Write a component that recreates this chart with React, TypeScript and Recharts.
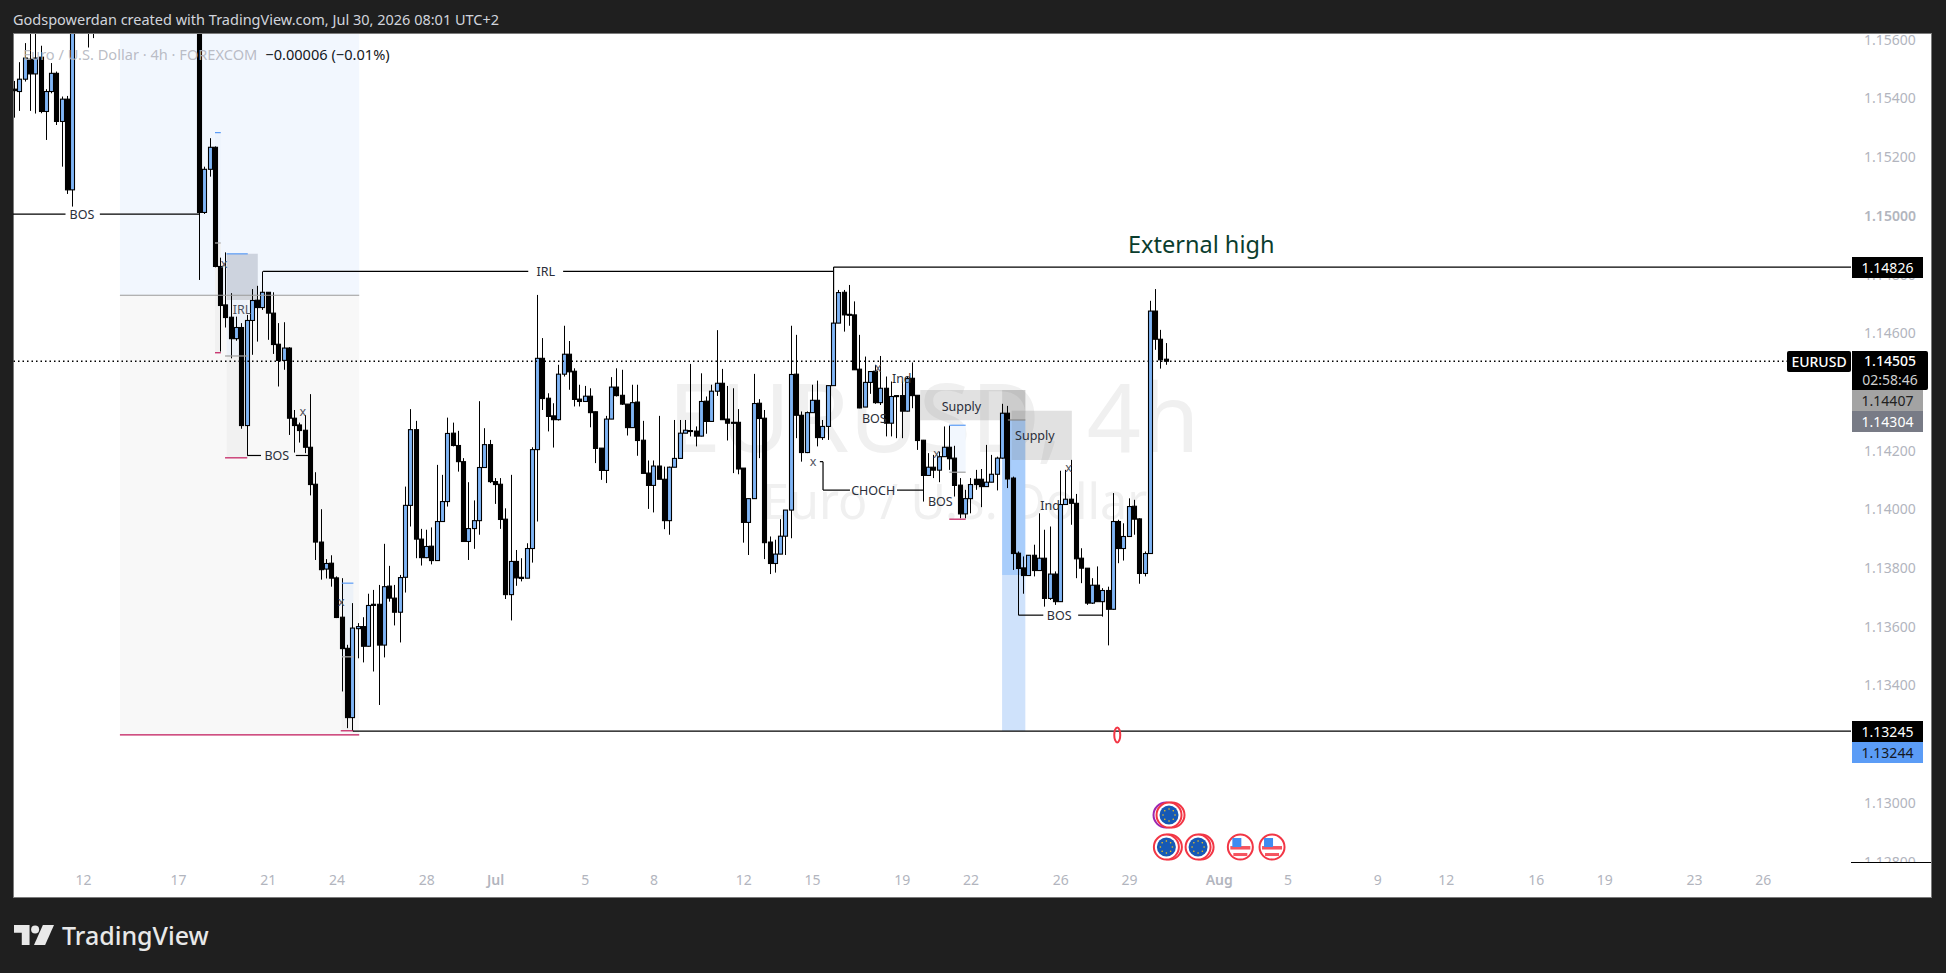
import { Bar, ComposedChart, ReferenceArea, ReferenceDot, ReferenceLine, XAxis, YAxis } from "recharts";

const __ = null;

// values, one entry per bar slot (bars above the visible range are left out)
const opens = [
  1.15432, 1.15424, 1.15466, 1.15534, 1.15484, 1.15541, 1.15356, 1.15424, 1.15486, 1.15322, 1.15398, 1.15089,
  __, __, 1.157, 1.1572,
  __, __, __, __, __, __, __, __, __, __, __, __, __, __, __, __, __, __, __,
  1.1585, 1.15012, 1.15159, 1.15234,
  1.14828, 1.14697, 1.14655, 1.14582, 1.1462, 1.14286, 1.14644, 1.14713, 1.14688, 1.1474, 1.14669,
  1.14563, 1.14508, 1.1455, 1.14311, 1.14288, 1.1427, 1.14212, 1.14086, 1.13889, 1.13797, 1.13817,
  1.13767, 1.13633, 1.13527, 1.13291, 1.13594, 1.13601, 1.13534, 1.13677, 1.13677, 1.13538, 1.13739,
  1.13698, 1.1365, 1.13769, 1.14014, 1.14272, 1.13899, 1.13836, 1.13875, 1.13826, 1.13959, 1.14027,
  1.1426, 1.14218, 1.14163, 1.13891, 1.13935, 1.13962, 1.14143, 1.14221, 1.14095, 1.14086, 1.13967,
  1.1371, 1.13823, 1.13769, 1.13766, 1.13867, 1.14204,
  1.14515, 1.14379, 1.14319, 1.14306, 1.14461, 1.14529, 1.14471, 1.14376, 1.14368, 1.14386,
  1.14333, 1.14209, 1.14133, 1.14308, 1.14417, 1.14389, 1.14359, 1.14279, 1.14366, 1.14236,
  1.14124, 1.14082, 1.14148, 1.14103, 1.13962, 1.14144, 1.14174, 1.1426, 1.14269, 1.14267,
  1.1425, 1.14369, 1.143, 1.14403, 1.1443, 1.14308, 1.14297, 1.14297, 1.14141, 1.13956,
  1.14037, 1.14362, 1.14311, 1.13889, 1.13816, 1.13848, 1.13909, 1.13998, 1.14461, 1.14321,
  1.14194, 1.1433, 1.14372, 1.14245, 1.14283, 1.14422, 1.14635, 1.1474, 1.14665, 1.14663,
  1.14478, 1.14349, 1.14433, 1.14471, 1.14364, 1.14413, 1.14294, 1.14388, 1.14388, 1.14335,
  1.14447, 1.14389, 1.14236, 1.14116, 1.14144, 1.14134, 1.1418, 1.14212, 1.14175, 1.14083,
  1.13985, 1.14037, 1.14103, 1.14103, 1.14078, 1.14093, 1.1412, 1.14175, 1.14328, 1.14107,
  1.13851, 1.13801, 1.13775, 1.13844, 1.13792, 1.13834, 1.13697, 1.1378, 1.13686, 1.14017,
  1.14035, 1.14021, 1.13834, 1.138, 1.13681, 1.13742, 1.13686, 1.13724, 1.1366, 1.13959,
  1.13867, 1.13908, 1.14011, 1.13968, 1.13782, 1.1385, 1.14676, 1.1458, 1.14512,
];
const highs = [
  1.1546, 1.15524, 1.15589, 1.15634, 1.15645, 1.1558, 1.15432, 1.15521, 1.15492, 1.15407, 1.15409, 1.159,
  __, __, 1.1575, 1.1578,
  __, __, __, __, __, __, __, __, __, __, __, __, __, __, __, __, __, __, __,
  1.159, 1.15168, 1.15265, 1.15237,
  1.14858, 1.14876, 1.14737, 1.14657, 1.14635, 1.14663, 1.14751, 1.14762, 1.14811, 1.1474, 1.1474,
  1.14635, 1.14638, 1.14553, 1.14339, 1.14296, 1.14322, 1.14393, 1.14127, 1.14001, 1.13831, 1.13844,
  1.13772, 1.13766, 1.13539, 1.13681, 1.13613, 1.13633, 1.13713, 1.13726, 1.13743, 1.13883, 1.13808,
  1.13743, 1.13777, 1.14078, 1.14342, 1.14302, 1.13934, 1.13931, 1.13939, 1.14152, 1.14118, 1.14313,
  1.14296, 1.14268, 1.14175, 1.14093, 1.14031, 1.14369, 1.14277, 1.14237, 1.14107, 1.14107, 1.14004,
  1.14118, 1.13862, 1.13834, 1.13885, 1.14212, 1.14731,
  1.14584, 1.14396, 1.14362, 1.14493, 1.14626, 1.14574, 1.14481, 1.14425, 1.14421, 1.14413,
  1.14334, 1.14209, 1.14319, 1.14451, 1.14481, 1.14476, 1.14359, 1.14425, 1.14425, 1.14302,
  1.14167, 1.14167, 1.14319, 1.14146, 1.14146, 1.14305, 1.14305, 1.14305, 1.14496, 1.14283,
  1.14464, 1.14385, 1.14425, 1.14611, 1.14479, 1.14421, 1.14413, 1.14342, 1.14141, 1.14037,
  1.14462, 1.14376, 1.14339, 1.13908, 1.13897, 1.13967, 1.13998, 1.14626, 1.14595, 1.14334,
  1.14334, 1.14425, 1.14439, 1.14305, 1.14422, 1.14635, 1.14748, 1.14748, 1.14765, 1.14709,
  1.14595, 1.14521, 1.1447, 1.14493, 1.14523, 1.14453, 1.14436, 1.14388, 1.14436, 1.14453,
  1.14501, 1.14389, 1.14237, 1.14192, 1.14186, 1.14197, 1.14283, 1.14286, 1.14217, 1.14107,
  1.14067, 1.14107, 1.14135, 1.14138, 1.1422, 1.14186, 1.1418, 1.1436, 1.14353, 1.14112,
  1.13857, 1.1384, 1.13845, 1.1388, 1.13987, 1.13931, 1.13942, 1.13789, 1.14132, 1.14135,
  1.14169, 1.14053, 1.13868, 1.138, 1.13766, 1.13806, 1.13732, 1.13737, 1.14056, 1.13965,
  1.13953, 1.14038, 1.14033, 1.1397, 1.13857, 1.14711, 1.14751, 1.14612, 1.14567,
];
const lows = [
  1.15335, 1.15358, 1.15458, 1.15358, 1.15349, 1.1535, 1.15259, 1.15418, 1.1531, 1.15168, 1.15075, 1.15032,
  __, __, 1.15574, 1.15606,
  __, __, __, __, __, __, __, __, __, __, __, __, __, __, __, __, __, __, __,
  1.14782, 1.15007, 1.15134, 1.14825,
  1.14538, 1.1462, 1.14515, 1.14575, 1.14275, 1.14184, 1.14527, 1.14572, 1.1468, 1.14578, 1.1453,
  1.14419, 1.14476, 1.14254, 1.14194, 1.14228, 1.14192, 1.14048, 1.13828, 1.13761, 1.13765, 1.13737,
  1.1363, 1.1338, 1.13255, 1.13246, 1.13493, 1.13479, 1.13533, 1.13448, 1.13334, 1.13496, 1.13686,
  1.13605, 1.13547, 1.13717, 1.13942, 1.13834, 1.13809, 1.13834, 1.13813, 1.13826, 1.13959, 1.1401,
  1.14215, 1.14129, 1.13891, 1.13828, 1.13866, 1.13914, 1.14143, 1.1409, 1.14019, 1.13934, 1.13695,
  1.13622, 1.1374, 1.13755, 1.13766, 1.13819, 1.13959,
  1.14339, 1.14266, 1.14211, 1.14303, 1.14453, 1.14408, 1.14351, 1.14351, 1.14368, 1.1428,
  1.14158, 1.14101, 1.1409, 1.14308, 1.14385, 1.14356, 1.14252, 1.14279, 1.14183, 1.14123,
  1.14002, 1.1399, 1.14103, 1.13933, 1.13914, 1.14144, 1.14174, 1.1426, 1.14249, 1.14215,
  1.14249, 1.14258, 1.143, 1.14387, 1.14305, 1.14235, 1.14124, 1.1412, 1.13887, 1.13845,
  1.14037, 1.14175, 1.13831, 1.1378, 1.13785, 1.13848, 1.13845, 1.13902, 1.14243, 1.14163,
  1.14192, 1.1433, 1.14215, 1.14237, 1.14237, 1.14422, 1.14635, 1.14606, 1.14626, 1.14476,
  1.14345, 1.14349, 1.14394, 1.1436, 1.14356, 1.14249, 1.14249, 1.14243, 1.14243, 1.14334,
  1.14345, 1.14203, 1.14027, 1.14116, 1.14107, 1.14093, 1.1418, 1.14135, 1.14044, 1.1397,
  1.1397, 1.13987, 1.14067, 1.14008, 1.14078, 1.14093, 1.14065, 1.14173, 1.14073, 1.13794,
  1.1364, 1.13713, 1.13775, 1.13772, 1.13792, 1.13669, 1.13692, 1.13675, 1.13686, 1.14017,
  1.13948, 1.13766, 1.13749, 1.13675, 1.13678, 1.13685, 1.13635, 1.13537, 1.13658, 1.13817,
  1.13826, 1.13908, 1.13914, 1.13747, 1.13772, 1.1385, 1.14544, 1.1448, 1.14493,
];
const closes = [
  1.15427, 1.15466, 1.15538, 1.15484, 1.15538, 1.15356, 1.15424, 1.15486, 1.15322, 1.15398, 1.15089, 1.1585,
  __, __, 1.1572, 1.1575,
  __, __, __, __, __, __, __, __, __, __, __, __, __, __, __, __, __, __, __,
  1.15012, 1.15159, 1.15234, 1.14828,
  1.14695, 1.14654, 1.14582, 1.1462, 1.14286, 1.14644, 1.14712, 1.14688, 1.1474, 1.14669, 1.14562,
  1.14508, 1.1455, 1.14311, 1.14286, 1.14269, 1.14212, 1.14085, 1.13889, 1.13795, 1.13816, 1.13766,
  1.13632, 1.13526, 1.13291, 1.13596, 1.13601, 1.13534, 1.13673, 1.13673, 1.13538, 1.13737, 1.13698,
  1.1365, 1.13768, 1.14014, 1.14272, 1.13899, 1.13836, 1.13874, 1.13826, 1.13959, 1.14027, 1.14259,
  1.14218, 1.14163, 1.13891, 1.13935, 1.13962, 1.14143, 1.14221, 1.14095, 1.14085, 1.13966, 1.1371,
  1.13823, 1.13767, 1.13765, 1.13867, 1.14204, 1.14515,
  1.14378, 1.14317, 1.14306, 1.14461, 1.14529, 1.14469, 1.14375, 1.14368, 1.14386, 1.1433,
  1.14208, 1.14133, 1.14308, 1.14417, 1.14388, 1.14359, 1.14279, 1.14364, 1.14235, 1.14123,
  1.14082, 1.14148, 1.14103, 1.13962, 1.14144, 1.14174, 1.1426, 1.1427, 1.14267, 1.1425,
  1.14368, 1.143, 1.14403, 1.1443, 1.14306, 1.14294, 1.14295, 1.14138, 1.13956, 1.14037,
  1.14361, 1.1431, 1.13887, 1.13816, 1.13848, 1.13909, 1.13998, 1.1446, 1.14321, 1.14194,
  1.1433, 1.14372, 1.14245, 1.14283, 1.14422, 1.14635, 1.14739, 1.14663, 1.14662, 1.14476,
  1.14346, 1.14433, 1.1447, 1.14364, 1.14413, 1.14294, 1.14385, 1.14386, 1.14335, 1.14446,
  1.14388, 1.14235, 1.14116, 1.14144, 1.14134, 1.1418, 1.14212, 1.14173, 1.14082, 1.13985,
  1.14037, 1.14085, 1.14085, 1.14078, 1.14093, 1.1412, 1.14175, 1.14328, 1.14104, 1.1385,
  1.13799, 1.13775, 1.13844, 1.13792, 1.13834, 1.13697, 1.1378, 1.13686, 1.14017, 1.14035,
  1.14021, 1.13832, 1.138, 1.13681, 1.13742, 1.13686, 1.13724, 1.1366, 1.13959, 1.13867,
  1.13908, 1.1401, 1.13967, 1.13782, 1.1385, 1.14676, 1.1458, 1.1451, 1.14505,
];

const priceTicks = [1.156, 1.154, 1.152, 1.15, 1.148, 1.146, 1.144, 1.142, 1.14, 1.138, 1.136, 1.134, 1.132, 1.13, 1.128];
const dateSlots = [13, 31, 48, 61, 78, 91, 108, 121, 138, 151, 168, 181, 198, 211, 228, 241, 258, 271, 288, 301, 318, 331];
const dateLabels = ["12", "17", "21", "24", "28", "Jul", "5", "8", "12", "15", "19", "22", "26", "29", "Aug", "5", "9", "12", "16", "19", "23", "26"];

const UI_FONT = "'Noto Sans', sans-serif";
const BLUE = "#7fb5f6";
const RAY = "#5b9cf6";
const CRIMSON = "#c2185b";
const SLOT_MIN = -0.34;
const SLOT_MAX = 347.6;
const PRICE_MIN = 1.12799;
const PRICE_MAX = 1.1562;

const bars = opens
  .map((open, i) => ({ i, open, high: highs[i], low: lows[i], close: closes[i], range: [lows[i], highs[i]] }))
  .filter((b) => b.open !== null);

// [slot from, slot to, price from, price to, fill] drawn under the candles
const zones: [number, number, number, number, string][] = [
  [19.9, 65.2, 1.1562, 1.1473, "#f2f7fe"],
  [19.9, 65.2, 1.1473, 1.13232, "#f8f8f8"],
  [37.9, 39, 1.15284, 1.14908, "#eef4fd"],
  [37.9, 39, 1.14908, 1.14534, "#f1f1f1"],
  [40.1, 44.1, 1.14714, 1.14523, "#edf2f9"],
  [40.1, 44.1, 1.14523, 1.14176, "#f1f1f1"],
  [40.1, 46, 1.14871, 1.14714, "rgba(120,130,150,0.3)"],
  [61.9, 64.1, 1.13749, 1.13498, "#edf2f8"],
  [61.9, 64.1, 1.13498, 1.13246, "#f2f2f2"],
  [176.9, 180, 1.14287, 1.14127, "#f2f7fe"],
  [186.9, 191.3, 1.14305, 1.13777, "#a8cdfb"],
  [186.9, 191.3, 1.13777, 1.13245, "#cfe2fb"],
  [186.9, 191.3, 1.14407, 1.14305, "rgba(0,0,0,0.1)"],
  [171.4, 191.3, 1.14407, 1.14304, "rgba(120,120,120,0.22)"],
  [188.7, 200.1, 1.14336, 1.14169, "rgba(120,120,120,0.22)"],
];

// [slot from, price from, slot to, price to, colour]
const segments: [number, number, number, number, string][] = [
  [19.9, 1.1473, 65.2, 1.1473, "#9a9a9a"],
  [19.9, 1.13232, 65.2, 1.13232, CRIMSON],
  [37.9, 1.15284, 39, 1.15284, RAY],
  [37.9, 1.14908, 39, 1.14908, "#b0b0b0"],
  [37.9, 1.14534, 39, 1.14534, CRIMSON],
  [40.1, 1.14871, 44.1, 1.14871, RAY],
  [39.8, 1.14523, 44.1, 1.14523, "#a0a0a0"],
  [39.8, 1.14176, 44, 1.14176, CRIMSON],
  [61.9, 1.13749, 64.1, 1.13749, RAY],
  [61.9, 1.13498, 64.1, 1.13498, "#b0b0b0"],
  [61.7, 1.13246, 64.1, 1.13246, CRIMSON],
  [176.9, 1.14287, 180, 1.14287, RAY],
  [176.9, 1.14127, 180, 1.14127, "#a0a0a0"],
  [176.9, 1.13967, 180, 1.13967, CRIMSON],
  [188, 1.14305, 191.3, 1.14305, "#8a8a8a"],
  [64, 1.13245, SLOT_MAX, 1.13245, "#000000"],
  [155, 1.14826, SLOT_MAX, 1.14826, "#000000"],
  [155, 1.14635, 155, 1.14826, "#000000"],
  [SLOT_MIN, 1.15006, 9.6, 1.15006, "#000000"],
  [16.1, 1.15006, 35, 1.15006, "#000000"],
  [47, 1.14811, 97.2, 1.14811, "#000000"],
  [103.8, 1.14811, 155, 1.14811, "#000000"],
  [44, 1.14184, 46.6, 1.14184, "#000000"],
  [53.2, 1.14184, 55.5, 1.14184, "#000000"],
  [153, 1.14163, 153, 1.14066, "#000000"],
  [152.4, 1.14163, 153, 1.14163, "#000000"],
  [153, 1.14066, 158.1, 1.14066, "#000000"],
  [167, 1.14066, 172, 1.14066, "#000000"],
  [190, 1.1364, 194.7, 1.1364, "#000000"],
  [201.3, 1.1364, 206, 1.1364, "#000000"],
];

// [text, slot, price, colour]
const notes: [string, number, number, string][] = [
  ["BOS", 12.7, 1.15006, "#2a2e39"],
  ["IRL", 100.5, 1.14811, "#2a2e39"],
  ["IRL", 43, 1.1468, "#50535e"],
  ["BOS", 49.6, 1.14184, "#2a2e39"],
  ["CHOCH", 162.5, 1.14066, "#2a2e39"],
  ["BOS", 197.7, 1.1364, "#2a2e39"],
  ["BOS", 162.7, 1.14311, "#2a2e39"],
  ["BOS", 175.2, 1.14027, "#2a2e39"],
  ["Ind", 167.9, 1.14445, "#2a2e39"],
  ["Ind", 196, 1.14012, "#2a2e39"],
  ["Supply", 179.2, 1.14351, "#2a2e39"],
  ["Supply", 193.1, 1.14252, "#2a2e39"],
  ["x", 54.5, 1.14334, "#50535e"],
  ["x", 39.6, 1.14837, "#50535e"],
  ["x", 61.8, 1.13686, "#50535e"],
  ["x", 151.1, 1.14162, "#50535e"],
  ["x", 163.4, 1.14482, "#50535e"],
  ["x", 174.5, 1.14189, "#50535e"],
  ["x", 199.5, 1.14142, "#50535e"],
];

// [kind, slot, price]
const events: [string, number, number][] = [
  ["eu2", 218.5, 1.12959],
  ["eu", 218, 1.1285],
  ["eu", 224, 1.1285],
  ["us", 232, 1.1285],
  ["us", 238, 1.1285],
];

const tags = [
  { text: "1.14826", top: 257, height: 21, width: 71, bg: "#000", color: "#fff" },
  { text: "1.14407", top: 390, height: 21, width: 71, bg: "#a3a3a3", color: "#222" },
  { text: "1.14304", top: 411, height: 21, width: 71, bg: "#787b86", color: "#fff" },
  { text: "1.13245", top: 721, height: 21, width: 71, bg: "#000", color: "#fff" },
  { text: "1.13244", top: 742, height: 21, width: 71, bg: "#5b9cf6", color: "#131722" },
];

function Candle(props: any) {
  const { x, y, width, height, payload } = props;
  const top = Math.min(y, y + height);
  const unit = Math.abs(height) / (payload.high - payload.low);
  const at = (v: number) => top + (payload.high - v) * unit;
  const cx = Math.floor(x + width / 2) + 0.5;
  const up = payload.close > payload.open;
  const bodyTop = at(Math.max(payload.open, payload.close));
  const bodyBottom = at(Math.min(payload.open, payload.close));
  return (
    <g>
      <line x1={cx} x2={cx} y1={top} y2={top + Math.abs(height)} stroke="#000" strokeWidth={1} />
      <rect
        x={cx - 2}
        y={bodyTop}
        width={4}
        height={Math.max(bodyBottom - bodyTop, 1)}
        fill={up ? BLUE : "#000"}
        stroke="#000"
        strokeWidth={1.1}
      />
    </g>
  );
}

function EventIcon({ cx, cy, kind }: any) {
  const ring = <circle cx={cx} cy={cy} r={12.5} fill="#fff" stroke="#f23645" strokeWidth={2} />;
  if (kind === "eu" || kind === "eu2") {
    return (
      <g>
        {kind === "eu2" && <circle cx={cx - 3} cy={cy} r={12.5} fill="#fff" stroke="#9c27b0" strokeWidth={2} />}
        <circle cx={cx + 3} cy={cy} r={12.5} fill="#fff" stroke="#f23645" strokeWidth={2} />
        {ring}
        <circle cx={cx} cy={cy} r={9.5} fill="#1659b5" />
        {[0, 1, 2, 3, 4, 5, 6, 7].map((k) => (
          <circle
            key={k}
            cx={cx + 6 * Math.cos((k * Math.PI) / 4)}
            cy={cy + 6 * Math.sin((k * Math.PI) / 4)}
            r={0.8}
            fill="#f5c518"
          />
        ))}
      </g>
    );
  }
  return (
    <g>
      {ring}
      <rect x={cx - 10} y={cy - 1} width={20} height={3.5} fill="#f5545f" />
      <rect x={cx - 7} y={cy + 6} width={14} height={3} fill="#f5545f" />
      <rect x={cx - 8} y={cy - 9} width={9} height={9} fill="#3f8cf0" />
    </g>
  );
}

function PriceTick({ x, y, payload }: any) {
  return (
    <text
      x={x + 5}
      y={y}
      dy="0.35em"
      fill="#b2b5be"
      fontFamily={UI_FONT}
      fontSize={14}
      fontWeight={payload.value === 1.15 ? 600 : 400}
    >
      {payload.value.toFixed(5)}
    </text>
  );
}

function DateTick({ x, y, index }: any) {
  const label = dateLabels[index];
  const month = label === "Jul" || label === "Aug";
  return (
    <text
      x={x}
      y={y + 10}
      dy="0.35em"
      textAnchor="middle"
      fill="#b2b5be"
      fontFamily={UI_FONT}
      fontSize={14}
      fontWeight={month ? 600 : 400}
    >
      {label}
    </text>
  );
}

function TradingViewMark() {
  return (
    <svg width={40} height={20} viewBox="0 0 36 18" style={{ position: "absolute", left: 14, top: 925 }}>
      <path d="M0 0h14v18H7V7H0z" fill="#e8e8e8" />
      <circle cx="19" cy="4" r="3.6" fill="#e8e8e8" />
      <path d="M26 0h10l-8 18H18z" fill="#e8e8e8" />
    </svg>
  );
}

export default function App() {
  return (
    <div
      style={{
        position: "fixed",
        left: 0,
        top: 0,
        width: 1946,
        height: 973,
        background: "#1f1f1f",
        overflow: "hidden",
        fontFamily: UI_FONT,
      }}
    >
      <div
        style={{
          position: "absolute",
          left: 13,
          top: 33,
          width: 1919,
          height: 865,
          boxSizing: "border-box",
          background: "#fff",
          border: "1px solid #7b7b7b",
        }}
      />
      <div style={{ position: "absolute", left: 668, top: 359, fontSize: 95, color: "#f0f0f0", whiteSpace: "nowrap", lineHeight: "112px" }}>
        EURUSD, 4h
      </div>
      <div style={{ position: "absolute", left: 762, top: 470, fontSize: 48.5, color: "#f0f0f0", whiteSpace: "nowrap", lineHeight: "60px" }}>
        Euro / U.S. Dollar
      </div>

      <div style={{ position: "absolute", left: 0, top: 0 }}>
        <ComposedChart
          width={1946}
          height={973}
          data={bars}
          margin={{ top: 34, left: 13, right: 14, bottom: 0 }}
          barGap={0}
        >
          <XAxis
            dataKey="i"
            type="number"
            domain={[SLOT_MIN, SLOT_MAX]}
            allowDataOverflow
            ticks={dateSlots}
            interval={0}
            height={111}
            axisLine={false}
            tickLine={false}
            tick={<DateTick />}
          />
          <YAxis
            orientation="right"
            type="number"
            domain={[PRICE_MIN, PRICE_MAX]}
            allowDataOverflow
            ticks={priceTicks}
            interval={0}
            width={81}
            axisLine={false}
            tickLine={false}
            tick={<PriceTick />}
          />
          {zones.map(([x1, x2, y1, y2, fill], k) => (
            <ReferenceArea key={`z${k}`} x1={x1} x2={x2} y1={y1} y2={y2} fill={fill} fillOpacity={1} stroke="none" />
          ))}
          <ReferenceLine y={1.14505} stroke="#000" strokeWidth={1.5} strokeDasharray="1.5 3" />
          <Bar dataKey="range" barSize={5} isAnimationActive={false} shape={<Candle />} />
          {segments.map(([x1, y1, x2, y2, color], k) => (
            <ReferenceLine
              key={`s${k}`}
              segment={[
                { x: x1, y: y1 },
                { x: x2, y: y2 },
              ]}
              stroke={color}
              strokeWidth={1.2}
            />
          ))}
          {notes.map(([text, x, y, color], k) => (
            <ReferenceDot
              key={`n${k}`}
              x={x}
              y={y}
              r={0}
              stroke="none"
              fill="none"
              label={{ value: text, position: "center", fill: color, fontSize: 12.5, fontFamily: UI_FONT }}
            />
          ))}
          <ReferenceDot
            x={224.6}
            y={1.14903}
            r={0}
            stroke="none"
            fill="none"
            label={{ value: "External high", position: "center", fill: "#0b3d2e", fontSize: 23.5, fontFamily: UI_FONT }}
          />
          <ReferenceDot
            x={208.7}
            y={1.13232}
            shape={({ cx, cy }: any) => <ellipse cx={cx} cy={cy} rx={3} ry={7.5} fill="none" stroke="#f23645" strokeWidth={2} />}
          />
          {events.map(([kind, x, y], k) => (
            <ReferenceDot key={`e${k}`} x={x} y={y} shape={(p: any) => <EventIcon cx={p.cx} cy={p.cy} kind={kind} />} />
          ))}
        </ComposedChart>
      </div>

      {/* header and footer sit over the chart so the top price label gets cut like in the screenshot */}
      <div style={{ position: "absolute", left: 0, top: 0, width: 1946, height: 33, background: "#1f1f1f" }} />
      <div style={{ position: "absolute", left: 13, top: 9, fontSize: 14.5, color: "#d1d4dc", whiteSpace: "nowrap", lineHeight: "20px" }}>
        Godspowerdan created with TradingView.com, Jul 30, 2026 08:01 UTC+2
      </div>
      <div style={{ position: "absolute", left: 23, top: 44, fontSize: 14.6, whiteSpace: "nowrap", lineHeight: "20px" }}>
        <span style={{ color: "rgba(178,181,190,0.9)" }}>Euro / U.S. Dollar · 4h · FOREXCOM</span>
        <span style={{ color: "#131722", marginLeft: 8 }}>−0.00006 (−0.01%)</span>
      </div>

      <div style={{ position: "absolute", left: 1851, top: 862, width: 80, height: 35, background: "#fff", borderTop: "1px solid #000", boxSizing: "border-box" }} />

      {tags.map((t) => (
        <div
          key={t.text}
          style={{
            position: "absolute",
            left: 1852,
            top: t.top,
            width: t.width,
            height: t.height,
            background: t.bg,
            color: t.color,
            fontSize: 14,
            lineHeight: `${t.height}px`,
            textAlign: "center",
          }}
        >
          {t.text}
        </div>
      ))}
      <div style={{ position: "absolute", left: 1787, top: 351, width: 64, height: 21, background: "#000", color: "#fff", fontSize: 14, lineHeight: "21px", textAlign: "center", fontWeight: 500, borderRadius: 2 }}>
        EURUSD
      </div>
      <div style={{ position: "absolute", left: 1852, top: 351, width: 76, height: 39, background: "#000", color: "#fff", fontSize: 14, lineHeight: "19px", textAlign: "center", borderRadius: "0 2px 2px 0" }}>
        <div style={{ fontWeight: 500 }}>1.14505</div>
        <div style={{ color: "#d0d0d0" }}>02:58:46</div>
      </div>

      <TradingViewMark />
      <div style={{ position: "absolute", left: 62, top: 918, fontSize: 25, fontWeight: 500, color: "#e8e8e8", lineHeight: "34px", whiteSpace: "nowrap" }}>
        TradingView
      </div>
    </div>
  );
}
